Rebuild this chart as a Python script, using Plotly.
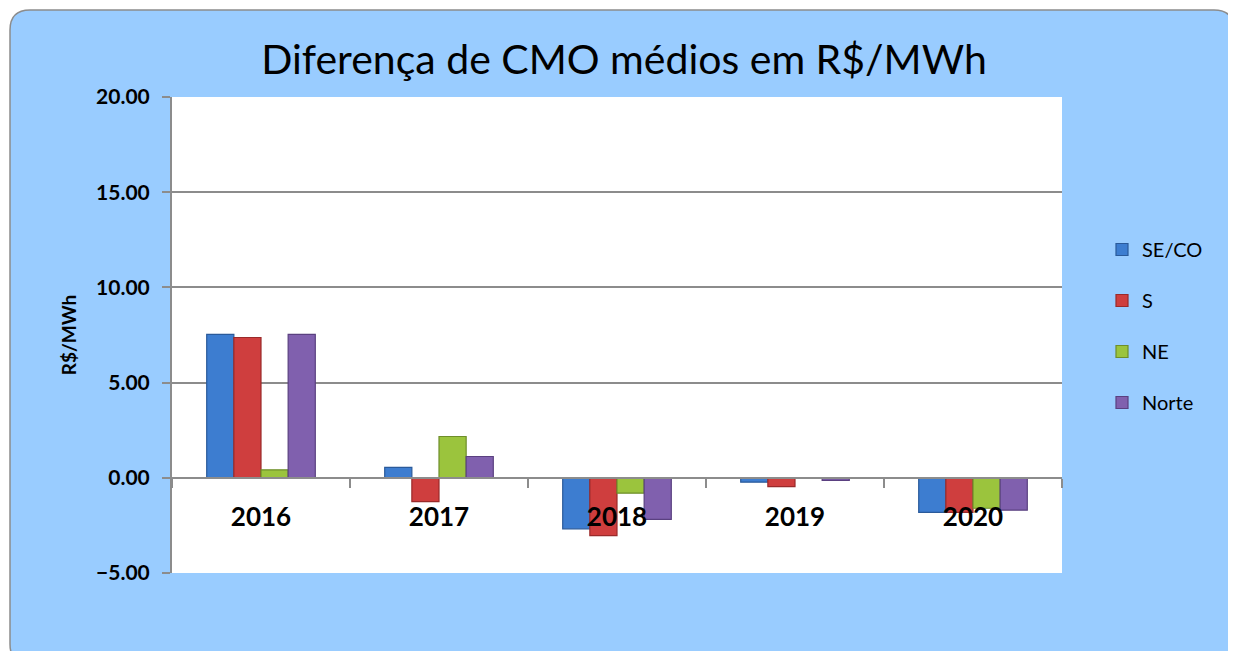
import plotly.graph_objects as go

years = ["2016", "2017", "2018", "2019", "2020"]
series_names = ["SE/CO", "S", "NE", "Norte"]
se_co = [7.53, 0.55, -2.68, -0.23, -1.82]
s = [7.37, -1.25, -3.04, -0.46, -1.82]
ne = [0.42, 2.17, -0.81, -0.03, -1.60]
norte = [7.53, 1.12, -2.18, -0.14, -1.70]
y_ticks = [-5, 0, 5, 10, 15, 20]

colors = ["#3D7DD0", "#CF3E3E", "#9BC43D", "#8060AE"]
edges = ["#2A5A9A", "#9A2A2A", "#6E8E2A", "#5A4080"]
values = [se_co, s, ne, norte]

FONT = "Lato"
OFF = 8  # browser body margin
W, H = 1236 - OFF, 651 - OFF
def rx(px):  # reference pixel -> figure pixel
    return px - OFF
L, R, T, B = rx(172), W - rx(1062), rx(97), H - rx(573)

fig = go.Figure()
for name, vals, c, e in zip(series_names, values, colors, edges):
    fig.add_trace(go.Bar(
        x=years, y=vals, name=name, legendgroup=name,
        marker=dict(color=c, line=dict(color=e, width=1.2)),
    ))

pw, ph = W - L - R, H - T - B
def P(px, py):
    X = (rx(px) - L) / pw
    Y = (H - B - rx(py)) / ph
    return X, Y
def S(px, py):
    X, Y = P(px, py)
    return f"{X:.5f},{Y:.5f}"

# rounded frame
x0, y0, x1, y1, r = 10, 10, 1234, 664, 20
path = (f"M {S(x0+r,y0)} L {S(x1-r,y0)} Q {S(x1,y0)} {S(x1,y0+r)} "
        f"L {S(x1,y1-r)} Q {S(x1,y1)} {S(x1-r,y1)} L {S(x0+r,y1)} "
        f"Q {S(x0,y1)} {S(x0,y1-r)} L {S(x0,y0+r)} Q {S(x0,y0)} {S(x0+r,y0)} Z")
fig.add_shape(type="path", path=path, xref="paper", yref="paper",
              fillcolor="#99CCFF", line=dict(color="#8C8C8C", width=1.5), layer="below")
fig.add_shape(type="rect", x0=0, x1=1, y0=0, y1=1, xref="paper", yref="paper",
              fillcolor="white", line=dict(width=0), layer="below")

zero_pos = (0 - y_ticks[0]) / (y_ticks[-1] - y_ticks[0])

fig.update_layout(
    width=W, height=H,
    margin=dict(l=L, r=R, t=T, b=B),
    paper_bgcolor="white", plot_bgcolor="rgba(0,0,0,0)",
    barmode="group", bargap=0.39, bargroupgap=0,
    title=dict(text="Diferença de CMO médios em R$/MWh", x=(rx(624)) / W, xanchor="center",
               y=1 - rx(60) / H, yanchor="middle", yref="container",
               font=dict(family=FONT, size=41, color="black")),
    font=dict(family=FONT, color="black"),
    xaxis=dict(
        anchor="free", position=zero_pos, showline=True, linecolor="#8C8C8C", linewidth=2,
        ticks="outside", tickson="boundaries", ticklen=9, tickcolor="#8C8C8C", tickwidth=2,
        tickfont=dict(family=FONT, size=26, weight="bold", color="black"),
        ticklabelstandoff=16, showgrid=False,
    ),
    yaxis=dict(
        range=[y_ticks[0], y_ticks[-1]], tickvals=y_ticks, tickformat=".2f",
        showgrid=True, gridcolor="#8C8C8C", gridwidth=1.5, zeroline=False,
        showline=True, linecolor="#8C8C8C", linewidth=2,
        ticks="outside", ticklen=8, tickcolor="#8C8C8C", tickwidth=1.5,
        tickfont=dict(family=FONT, size=21, weight="bold", color="black"),
        ticklabelstandoff=8,
        title=dict(text="R$/MWh", font=dict(family=FONT, size=19, weight="bold", color="black"), standoff=14),
    ),
    legend=dict(x=P(1102, 0)[0], xanchor="left", y=P(0, 230)[1], yanchor="top",
                bgcolor="rgba(0,0,0,0)", font=dict(family=FONT, size=20, color="black"),
                tracegroupgap=22, traceorder="grouped"),
)

fig.write_html("out.html")
